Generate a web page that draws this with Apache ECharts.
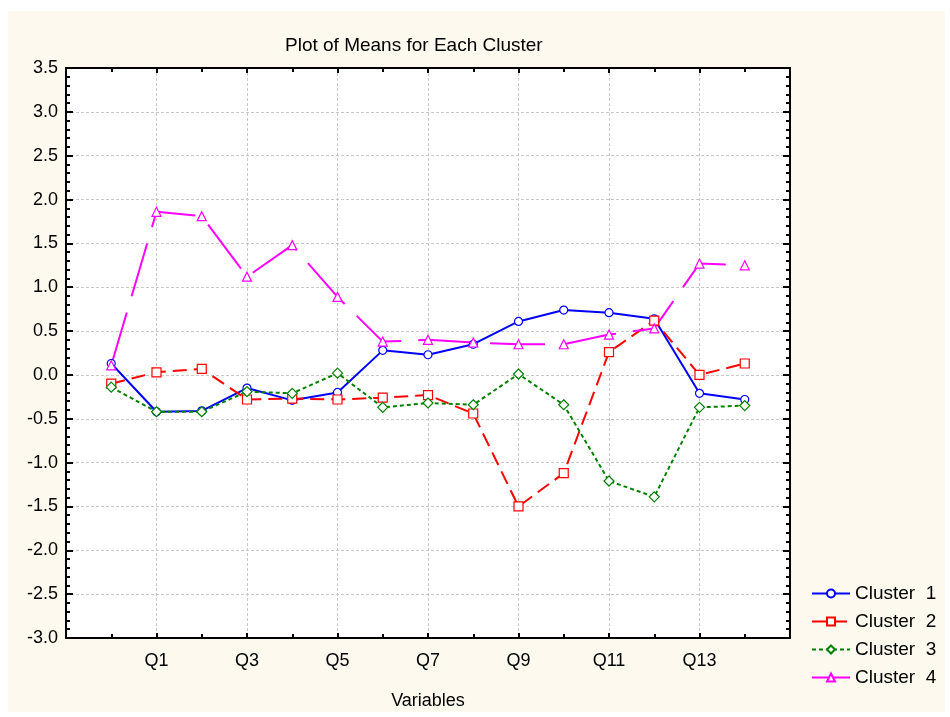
<!DOCTYPE html>
<html>
<head>
<meta charset="utf-8">
<script src="https://cdn.jsdelivr.net/npm/echarts@6/dist/echarts.min.js"></script>
<style>
  html, body { margin: 0; padding: 0; background: #fff; }
  #chart { width: 950px; height: 717px; }
</style>
</head>
<body>
<div id="chart"></div>
<script>
// variables on the x axis (only every other one gets a label)
const variables = ['Q0', 'Q1', 'Q2', 'Q3', 'Q4', 'Q5', 'Q6', 'Q7', 'Q8', 'Q9', 'Q10', 'Q11', 'Q12', 'Q13', 'Q14']

const cluster1 = [0.13, -0.42, -0.41, -0.15, -0.29, -0.20, 0.28, 0.23, 0.35, 0.61, 0.74, 0.71, 0.64, -0.21, -0.28]
const cluster2 = [-0.10, 0.03, 0.07, -0.28, -0.27, -0.28, -0.26, -0.23, -0.44, -1.50, -1.12, 0.26, 0.62, 0.00, 0.13]
const cluster3 = [-0.14, -0.42, -0.42, -0.19, -0.21, 0.02, -0.37, -0.32, -0.34, 0.01, -0.34, -1.21, -1.39, -0.37, -0.35]
const cluster4 = [0.11, 1.86, 1.81, 1.12, 1.48, 0.89, 0.38, 0.40, 0.37, 0.35, 0.35, 0.46, 0.53, 1.27, 1.25]

const seriesNames = ['Cluster  1', 'Cluster  2', 'Cluster  3', 'Cluster  4']

const font = 'Liberation Sans'

// x position 1..15 -> variable index 0..14, axis runs 0..16
const toPoints = values => values.map((v, i) => [i + 1, v])

const chart = echarts.init(document.getElementById('chart'))

const frameLine = { show: true, onZero: false, lineStyle: { color: '#000', width: 2 } }

const makeSeries = (name, values, color, dash, symbol, size) => ({
  name: name,
  type: 'line',
  data: toPoints(values),
  symbol: symbol,
  symbolSize: size,
  showSymbol: true,
  lineStyle: { color: color, width: 2, type: dash },
  itemStyle: { color: '#fff', borderColor: color, borderWidth: 1.2 },
  emphasis: { disabled: true },
  animation: false
})

chart.setOption({
  backgroundColor: '#fff',
  animation: false,
  graphic: [
    {
      type: 'rect',
      z: -10,
      shape: { x: 8, y: 11, width: 937, height: 701 },
      style: { fill: '#fdf9ef' }
    }
  ],
  title: {
    text: 'Plot of Means for Each Cluster',
    left: 280,
    top: 31,
    textStyle: { fontFamily: font, fontSize: 19, fontWeight: 'normal', color: '#000' }
  },
  legend: {
    orient: 'vertical',
    left: 806,
    top: 579,
    itemWidth: 38,
    itemHeight: 10,
    itemGap: 9,
    textStyle: { fontFamily: font, fontSize: 19, color: '#000', lineHeight: 19 },
    data: seriesNames
  },
  grid: {
    left: 66,
    right: 160,
    top: 68,
    bottom: 79,
    show: true,
    backgroundColor: '#fff',
    borderWidth: 0
  },
  xAxis: [
    {
      type: 'value',
      min: 0,
      max: 16,
      interval: 2,
      position: 'bottom',
      name: 'Variables',
      nameLocation: 'middle',
      nameGap: 54,
      nameTextStyle: { fontFamily: font, fontSize: 18, color: '#000' },
      axisLine: frameLine,
      axisTick: { inside: true, length: 5, lineStyle: { color: '#000', width: 2 } },
      minorTick: { show: true, splitNumber: 2, length: 4, lineStyle: { color: '#000', width: 2 } },
      axisLabel: {
        margin: 14,
        fontFamily: font,
        fontSize: 18,
        color: '#000',
        formatter: v => (v > 0 && v < 16 ? variables[v - 1] : '')
      },
      splitLine: { show: true, lineStyle: { color: '#c8c8c8', type: [3, 2], width: 1 } }
    },
    {
      type: 'value',
      min: 0,
      max: 16,
      interval: 2,
      position: 'top',
      axisLine: frameLine,
      axisTick: { inside: true, length: 5, lineStyle: { color: '#000', width: 2 } },
      minorTick: { show: true, splitNumber: 2, length: 4, lineStyle: { color: '#000', width: 2 } },
      axisLabel: { show: false },
      splitLine: { show: false }
    }
  ],
  yAxis: [
    {
      type: 'value',
      min: -3,
      max: 3.5,
      interval: 0.5,
      position: 'left',
      axisLine: frameLine,
      axisTick: { inside: true, length: 7, lineStyle: { color: '#000', width: 2 } },
      minorTick: { show: true, splitNumber: 5, length: 4, lineStyle: { color: '#000', width: 2 } },
      axisLabel: {
        margin: 8,
        fontFamily: font,
        fontSize: 18,
        color: '#000',
        formatter: v => v.toFixed(1)
      },
      splitLine: { show: true, lineStyle: { color: '#c8c8c8', type: [3, 2], width: 1 } }
    },
    {
      type: 'value',
      min: -3,
      max: 3.5,
      interval: 0.5,
      position: 'right',
      axisLine: frameLine,
      axisTick: { inside: true, length: 7, lineStyle: { color: '#000', width: 2 } },
      minorTick: { show: true, splitNumber: 5, length: 4, lineStyle: { color: '#000', width: 2 } },
      axisLabel: { show: false },
      splitLine: { show: false }
    }
  ],
  series: [
    makeSeries(seriesNames[0], cluster1, '#0000ff', 'solid', 'circle', 8),
    makeSeries(seriesNames[1], cluster2, '#ff0000', [14, 7], 'rect', 9),
    makeSeries(seriesNames[2], cluster3, '#008000', [4, 3], 'diamond', 10),
    makeSeries(seriesNames[3], cluster4, '#ff00ff', [55, 17], 'triangle', 9)
  ]
})
</script>
</body>
</html>
